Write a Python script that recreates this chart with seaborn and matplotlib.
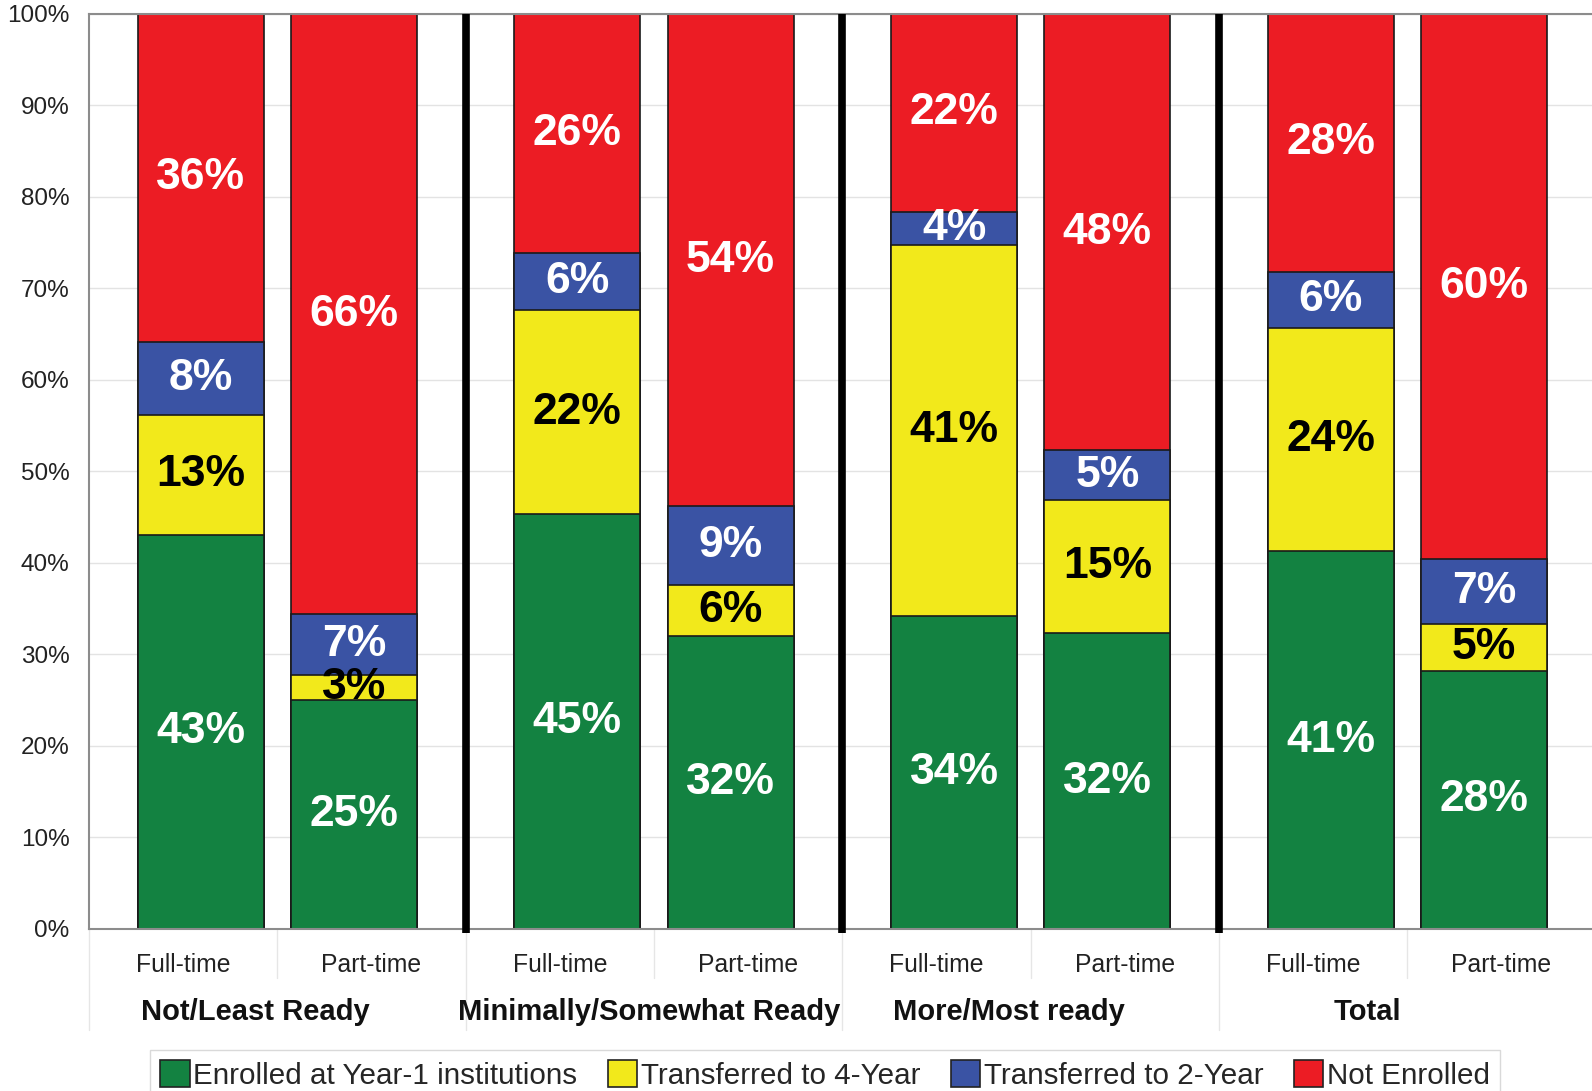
import numpy as np
import pandas as pd
import matplotlib
matplotlib.use("Agg")
import matplotlib.pyplot as plt
import matplotlib.transforms as mtransforms
from matplotlib.patches import Patch
import seaborn as sns

# ---------------- data ----------------
groups = ["Not/Least Ready", "Minimally/Somewhat Ready", "More/Most ready", "Total"]
statuses = ["Full-time", "Part-time"]
series_names = ["Enrolled at Year-1 institutions", "Transferred to 4-Year",
                "Transferred to 2-Year", "Not Enrolled"]
enrolled = [43.1, 25.0, 45.3, 32.0, 34.2, 32.3, 41.3, 28.2]
transfer4 = [13.1, 2.8, 22.3, 5.6, 40.6, 14.6, 24.4, 5.1]
transfer2 = [8.0, 6.6, 6.3, 8.6, 3.6, 5.4, 6.1, 7.1]
not_enrolled = [35.8, 65.6, 26.1, 53.8, 21.6, 47.7, 28.2, 59.6]
y_ticks = [0, 10, 20, 30, 40, 50, 60, 70, 80, 90, 100]

# ---------------- style ----------------
colors = ["#138241", "#F2E91B", "#3A53A4", "#EC1C24"]
label_colors = ["white", "black", "white", "white"]

sns.set_style("white")
plt.rcParams['font.family'] = ['Liberation Sans', 'DejaVu Sans']

fig = plt.figure(figsize=(15.92, 10.91), dpi=100)
ax = fig.add_axes([0.0559, 0.1485, 0.9464, 0.8387])

offs = (0.593, 1.407)
xpos = [2 * g + o for g in range(len(groups)) for o in offs]
series = [enrolled, transfer4, transfer2, not_enrolled]
cum = np.cumsum(np.array(series), axis=0)
native_step = min(np.diff(sorted(xpos)))
width_frac = 0.668 / native_step

df = pd.DataFrame({"x": xpos})
for i in range(3, -1, -1):
    df["top"] = cum[i]
    sns.barplot(data=df, x="x", y="top", native_scale=True, color=colors[i],
                saturation=1, width=width_frac, edgecolor="#1a1a1a",
                linewidth=1.2, errorbar=None, ax=ax, zorder=2)

# segment labels
for i, vals in enumerate(series):
    for j, v in enumerate(vals):
        yc = cum[i][j] - v / 2
        ax.text(xpos[j], yc, f"{v:.0f}%", ha="center", va="center",
                fontsize=32, fontweight="bold", color=label_colors[i], zorder=6)

ax.set_xlim(0, 8)
ax.set_ylim(0, 100)
ax.set_xlabel("")
ax.set_ylabel("")
ax.set_axisbelow(True)
ax.set_yticks(y_ticks)
ax.set_yticklabels([f"{v}%" for v in y_ticks])
ax.tick_params(axis="y", length=0, pad=14, labelsize=17.5, labelcolor="#222222")
ax.set_xticks([])
ax.yaxis.grid(True, color="#e3e3e3", lw=1)
for s in ["left", "bottom", "top"]:
    ax.spines[s].set_color("#8c8c8c")
    ax.spines[s].set_linewidth(1.5)
ax.spines["right"].set_visible(False)

# thick group separators
for x in (2, 4, 6):
    ax.plot([x, x], [-0.4, 100], color="black", lw=5.5, clip_on=False,
            solid_capstyle="butt", zorder=7)

trans = mtransforms.blended_transform_factory(ax.transData, ax.transAxes)
for x in range(8):
    y_end = -0.110 if x % 2 == 0 else -0.0536
    ax.plot([x, x], [0, y_end], color="#e6e6e6", lw=1, clip_on=False,
            transform=trans)

for k in range(8):
    ax.text(k + 0.5, -0.0393, statuses[k % 2], transform=trans, ha="center",
            va="center", fontsize=17.8, color="#222222")

group_x = [0.884, 2.976, 4.884, 6.787]
for gx, g in zip(group_x, groups):
    ax.text(gx, -0.0907, g, transform=trans, ha="center", va="center",
            fontsize=21, fontweight="bold", color="#111111")

handles = [Patch(facecolor=c, edgecolor="#222222", linewidth=1.2) for c in colors]
leg = fig.legend(handles, series_names, loc="upper left",
                 bbox_to_anchor=(150 / 1592, 1 - 1050 / 1091), ncol=4,
                 frameon=True, fancybox=False, edgecolor="#d0d0d0",
                 fontsize=21.3, handlelength=1.0, handleheight=1.0,
                 handletextpad=0.12, columnspacing=1.02, borderpad=0.35,
                 borderaxespad=0)
leg.get_frame().set_linewidth(1)

fig.savefig("out.png", dpi=100)
